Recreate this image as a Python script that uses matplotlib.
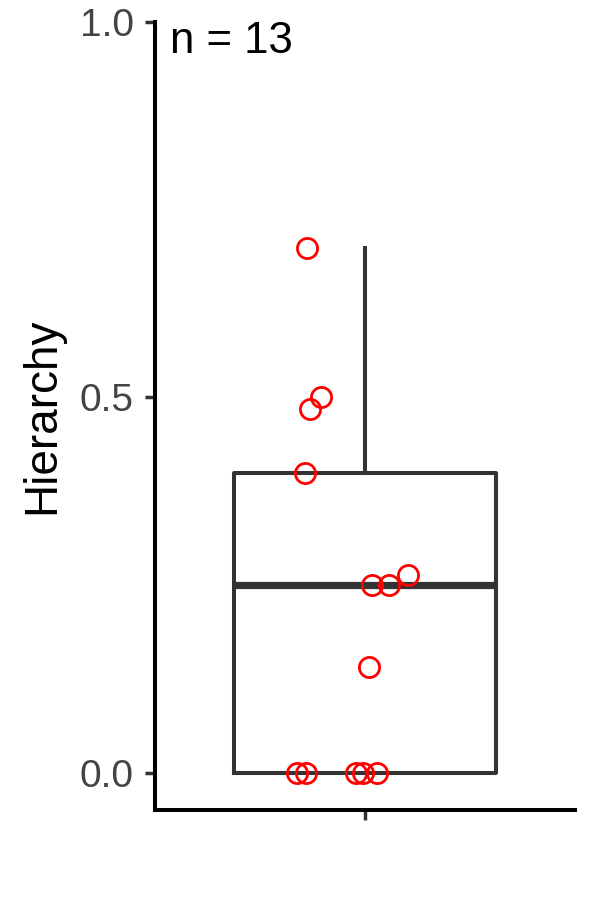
import matplotlib
matplotlib.use('Agg')
import matplotlib.pyplot as plt
import numpy as np

plt.rcParams['font.family'] = ['Liberation Sans', 'DejaVu Sans']

# values
hierarchy = [0.699, 0.5, 0.485, 0.4, 0.263, 0.25, 0.25, 0.141, 0.0, 0.0, 0.0, 0.0, 0.0]
jitter_x = [0.834, 0.874, 0.843, 0.829, 1.123, 1.02, 1.069, 1.011, 0.806, 0.831, 0.974, 0.994, 1.034]
y_ticks = [0.0, 0.5, 1.0]
y_tick_labels = ['0.0', '0.5', '1.0']

fig = plt.figure(figsize=(6, 9), dpi=100)
ax = fig.add_axes([0.258, 0.1, 0.7, 0.8756])

box_col = '#333333'
ax.boxplot(
    [hierarchy], positions=[1], widths=0.75, whis=1.5, showfliers=False,
    patch_artist=False,
    boxprops=dict(color=box_col, linewidth=2.9),
    whiskerprops=dict(color=box_col, linewidth=2.9),
    capprops=dict(linewidth=0),
    medianprops=dict(color=box_col, linewidth=5.2, solid_capstyle='butt'),
)
ax.plot(jitter_x, hierarchy, 'o', ms=14.5, mfc='none', mec='#FF0000', mew=2.0,
        zorder=5, clip_on=False)

ax.set_xlim(0.4, 1.6)
ax.set_ylim(-0.0493, 1.0)
ax.set_xticks([1])
ax.set_xticklabels([''])
ax.set_yticks(y_ticks)
ax.set_yticklabels(y_tick_labels)

for side in ['top', 'right']:
    ax.spines[side].set_visible(False)
for side in ['left', 'bottom']:
    ax.spines[side].set_linewidth(2.9)
    ax.spines[side].set_color('black')
    ax.spines[side].set_capstyle('projecting')

ax.tick_params(axis='both', direction='out', length=7, width=2.5,
               color=box_col, labelsize=28, labelcolor='#444444', pad=8)
ax.set_ylabel('Hierarchy', fontsize=33, labelpad=11)

ax.text(0.036, 0.975, 'n = 13', transform=ax.transAxes, fontsize=31.5,
        ha='left', va='center', color='black')

fig.savefig('out.png', dpi=100)
